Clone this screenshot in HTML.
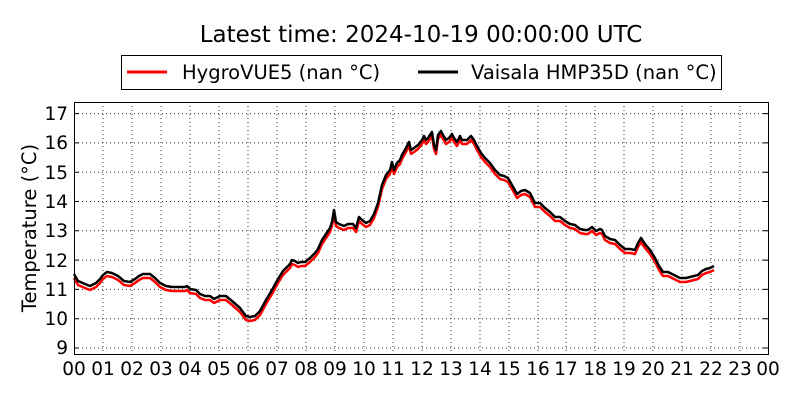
<!DOCTYPE html>
<html><head><meta charset="utf-8"><style>
html,body{margin:0;padding:0;background:#fff;}
svg{display:block;font-family:"DejaVu Sans","Liberation Sans",sans-serif;}
</style></head><body>
<svg width="800" height="400" viewBox="0 0 800 400" xmlns="http://www.w3.org/2000/svg">
<text x="421" y="42" font-size="23" text-anchor="middle">Latest time: 2024-10-19 00:00:00 UTC</text>
<rect x="121.5" y="55.5" width="600" height="34" fill="#fff" stroke="#000" stroke-width="1"/>
<line x1="127" y1="72" x2="167" y2="72" stroke="#f00" stroke-width="3"/>
<text x="182" y="79" font-size="19.5">HygroVUE5 (nan °C)</text>
<line x1="418" y1="72" x2="458" y2="72" stroke="#000" stroke-width="3"/>
<text x="471" y="79" font-size="19.5">Vaisala HMP35D (nan °C)</text>
<g stroke="#000" stroke-width="1" stroke-dasharray="1,3" fill="none" opacity="0.8">
<path d="M74 113.6H768M74 142.9H768M74 172.2H768M74 201.5H768M74 230.8H768M74 260.1H768M74 289.4H768M74 318.7H768M74 348H768"/>
<path d="M103 102V354M132 102V354M161 102V354M190 102V354M219 102V354M248 102V354M277 102V354M306 102V354M335 102V354M364 102V354M393 102V354M422 102V354M451 102V354M480 102V354M509 102V354M538 102V354M566 102V354M595 102V354M624 102V354M653 102V354M682 102V354M711 102V354M740 102V354"/>
</g>
<defs>
<polyline id="b" fill="none" points="74,274 78,281 85,284 90,286 96,283 100,279 103,275 107,272 112,273 118,276 124,281 130,282 135,279 139,276 143,274 150,274 155,278 160,283 166,286 172,287 180,287 185,287 187,286 190,289 196,290 200,294 205,296 210,296 214,299 220,296 226,296 232,301 240,308 246,316 250,317 255,316 260,311 266,300 272,290 278,279 283,271 287,267 290,264 292,260 295,261 298,263 301,262 305,262 310,258 315,253 318,249 322,240 326,234 330,228 332,222 334,210 336,222 339,224 344,226 348,224 353,224 356,228 359,217 362,220 366,223 370,221 374,214 378,203 382,185 386,175 390,170 392,162 394,170 397,163 400,160 402,155 406,148 409,142 411,150 414,148 418,145 422,140 424,136 426,140 428,138 430,135 432,132 434,145 436,150 438,135 441,131 443,135 446,140 449,138 452,134 454,138 457,142 460,136 462,140 467,140 471,136 474,140 477,146 481,153 485,158 490,163 495,170 500,175 504,176 508,178 512,185 517,194 521,191 525,190 530,193 535,203 540,203 545,208 550,212 555,217 560,217 565,221 570,224 575,225 580,229 585,230 588,230 592,227 596,231 600,229 602,230 605,236 610,239 615,240 620,245 625,249 630,249 635,250 638,243 641,238 645,244 650,250 655,258 659,266 663,272 668,272 672,274 676,276 680,278 686,278 690,277 694,276 698,275 702,271 706,269 710,268 714,266"/>
</defs>
<g fill="none" stroke-width="2.5" stroke-linejoin="round">
<use href="#b" transform="translate(0,4)" stroke="#f00"/>
<use href="#b" stroke="#000"/>
</g>
<rect x="74.5" y="102.5" width="694" height="252" fill="none" stroke="#000" stroke-width="1"/>
<g stroke="#000" stroke-width="1">
<path d="M74 113.6h5M74 142.9h5M74 172.2h5M74 201.5h5M74 230.8h5M74 260.1h5M74 289.4h5M74 318.7h5M74 348h5"/>
<path d="M768 113.6h-5M768 142.9h-5M768 172.2h-5M768 201.5h-5M768 230.8h-5M768 260.1h-5M768 289.4h-5M768 318.7h-5M768 348h-5"/>
</g>
<g font-size="18.5" text-anchor="end">
<text x="68" y="120">17</text><text x="68" y="149">16</text><text x="68" y="179">15</text><text x="68" y="208">14</text><text x="68" y="237">13</text><text x="68" y="267">12</text><text x="68" y="296">11</text><text x="68" y="325">10</text><text x="68" y="354">9</text>
</g>
<g font-size="18.5" text-anchor="middle">
<text x="74" y="375">00</text><text x="103" y="375">01</text><text x="132" y="375">02</text><text x="161" y="375">03</text><text x="190" y="375">04</text><text x="219" y="375">05</text><text x="248" y="375">06</text><text x="277" y="375">07</text><text x="306" y="375">08</text><text x="335" y="375">09</text><text x="364" y="375">10</text><text x="393" y="375">11</text><text x="422" y="375">12</text><text x="451" y="375">13</text><text x="480" y="375">14</text><text x="509" y="375">15</text><text x="538" y="375">16</text><text x="566" y="375">17</text><text x="595" y="375">18</text><text x="624" y="375">19</text><text x="653" y="375">20</text><text x="682" y="375">21</text><text x="711" y="375">22</text><text x="740" y="375">23</text><text x="768" y="375">00</text>
</g>
<text x="36" y="228" font-size="19.5" text-anchor="middle" transform="rotate(-90 36 228)">Temperature (°C)</text>
</svg>
</body></html>
